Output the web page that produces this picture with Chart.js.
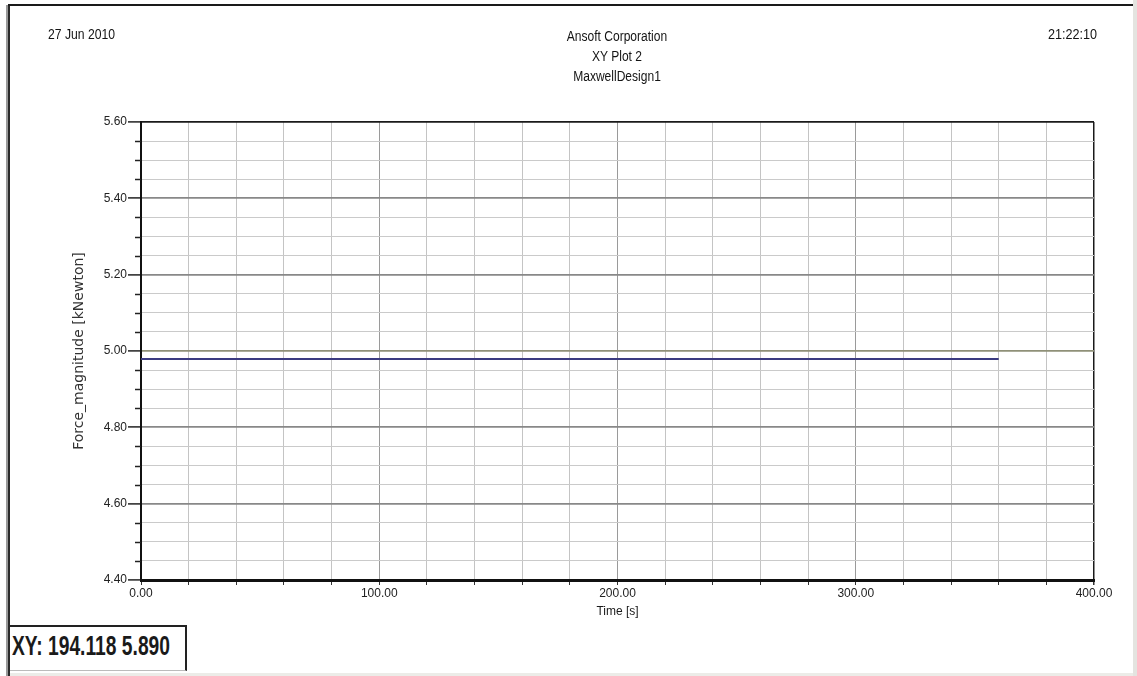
<!DOCTYPE html>
<html>
<head>
<meta charset="utf-8">
<script src="https://cdn.jsdelivr.net/npm/chart.js@4.4.1/dist/chart.umd.min.js"></script>
<style>
  html, body { margin: 0; padding: 0; background: #ffffff; }
  #wrap { position: relative; width: 1137px; height: 676px; overflow: hidden; background: #ffffff; }
  #plot { position: absolute; left: 0; top: 0; }
  .frame { position: absolute; }
  .hdr { position: absolute; font-family: "Liberation Sans", Arial, sans-serif;
         font-size: 14px; color: #141414; white-space: nowrap; line-height: 20px; }
  #hdrDate { transform: scaleX(0.87); transform-origin: 0 0; }
  #hdrTime { transform: scaleX(0.9); transform-origin: 100% 0; }
  #hdrTitle { transform: scaleX(0.86); transform-origin: 50% 0; }
  #xybox { position: absolute; left: 10px; top: 625px; width: 175px; height: 43px;
           border-top: 2px solid #222; border-right: 2px solid #222; border-bottom: 1px solid #bbb;
           background: #fff; }
  #xytext { position: absolute; left: 2px; top: 4px; font-family: "Liberation Sans", Arial, sans-serif;
            font-weight: bold; font-size: 27px; color: #1a1a1a; white-space: nowrap; transform-origin: 0 0; }
</style>
</head>
<body>
<div id="wrap">
  <canvas id="plot" width="1137" height="676"></canvas>
  <!-- window frame -->
  <div class="frame" style="left:6px;top:5px;width:2px;height:671px;background:#9a9a9a;"></div>
  <div class="frame" style="left:8px;top:5px;width:2px;height:671px;background:#2a2a2a;"></div>
  <div class="frame" style="left:8px;top:4px;width:1125px;height:2px;background:#1a1a1a;"></div>
  <div class="frame" style="left:1133px;top:0;width:4px;height:676px;background:#e4e4e0;"></div>
  <div class="frame" style="left:10px;top:673px;width:1123px;height:3px;background:#ecece8;"></div>
  <!-- header texts -->
  <div class="hdr" id="hdrDate" style="left:48px;top:24px;"></div>
  <div class="hdr" id="hdrTitle" style="left:472px;top:26px;width:290px;text-align:center;"></div>
  <div class="hdr" id="hdrTime" style="left:1020px;top:24px;width:77px;text-align:right;"></div>
  <div id="xybox"><div id="xytext"></div></div>
</div>
<script>
// Header and readout texts
const dateText = "27 Jun 2010";
const timeText = "21:22:10";
const titleLines = ["Ansoft Corporation", "XY Plot 2", "MaxwellDesign1"];
const readoutText = "XY: 194.118 5.890";

// Axis ranges and tick spacing
const xMin = 0, xMax = 400, xStep = 20, xLabelEvery = 100;
const yMin = 4.40, yMax = 5.60, yStep = 0.05, yLabelEvery = 0.20;
const xTitle = "Time [s]";
const yTitle = "Force_magnitude [kNewton]";

// Force trace (flat) over the simulated time span
const timeSec = [0, 360];
const forceKN = [4.979, 4.979];

document.getElementById('hdrDate').textContent = dateText;
document.getElementById('hdrTime').textContent = timeText;
document.getElementById('hdrTitle').innerHTML = titleLines.map(s => '<div>' + s + '</div>').join('');
const xy = document.getElementById('xytext');
xy.textContent = readoutText;
requestAnimationFrame(() => {
  const w = xy.getBoundingClientRect().width;
  xy.style.transform = 'scaleX(' + (158 / w) + ')';
});

const sans = '"Liberation Sans", Arial, sans-serif';
const isMultiple = (v, m) => Math.abs(Math.round(v / m) * m - v) < 1e-6;
const near = (a, b) => Math.abs(a - b) < 1e-6;

// short minor tick marks on the left axis
const minorTicks = {
  id: 'minorTicks',
  afterDraw(chart) {
    const y = chart.scales.y, ctx = chart.ctx;
    ctx.save();
    ctx.strokeStyle = '#222';
    ctx.lineWidth = 1.5;
    y.ticks.forEach(t => {
      if (isMultiple(t.value - yMin, yLabelEvery)) return;
      const py = Math.round(y.getPixelForValue(t.value)) + 0.5;
      ctx.beginPath();
      ctx.moveTo(y.right - 6, py);
      ctx.lineTo(y.right, py);
      ctx.stroke();
    });
    ctx.restore();
  }
};

new Chart(document.getElementById('plot'), {
  type: 'line',
  data: {
    datasets: [{
      data: timeSec.map((t, i) => ({ x: t, y: forceKN[i] })),
      borderColor: '#3b3b80',
      borderWidth: 2,
      pointRadius: 0,
      tension: 0
    }]
  },
  options: {
    responsive: false,
    animation: false,
    events: [],
    layout: { padding: { top: 122, right: 43, left: 0, bottom: 0 } },
    plugins: { legend: { display: false }, tooltip: { enabled: false } },
    scales: {
      x: {
        type: 'linear',
        min: xMin, max: xMax,
        afterFit(scale) { scale.height = 96; },
        ticks: {
          stepSize: xStep,
          autoSkip: false,
          maxRotation: 0,
          padding: 1,
          color: '#222',
          font: { family: sans, size: 12 },
          callback: v => isMultiple(v, xLabelEvery) ? v.toFixed(2) : ''
        },
        grid: {
          tickLength: 5,
          tickColor: '#333',
          color: ctx => {
            const v = ctx.tick ? ctx.tick.value : 0;
            if (near(v, xMax)) return '#1a1a1a';
            return isMultiple(v, xLabelEvery) ? '#9a9a9a' : '#c4c4c4';
          },
          lineWidth: ctx => (ctx.tick && near(ctx.tick.value, xMax)) ? 1.5 : 1
        },
        border: { display: true, color: '#111', width: 3 },
        title: {
          display: true,
          text: xTitle,
          color: '#1a1a1a',
          font: { family: sans, size: 12 },
          padding: { top: 0, bottom: 57 }
        }
      },
      y: {
        type: 'linear',
        min: yMin, max: yMax,
        afterFit(scale) { scale.width = 141; },
        ticks: {
          stepSize: yStep,
          autoSkip: false,
          padding: 1,
          color: '#222',
          font: { family: sans, size: 12 },
          callback: v => isMultiple(v - yMin, yLabelEvery) ? v.toFixed(2) : ''
        },
        grid: {
          tickLength: 13,
          tickWidth: 1.5,
          tickColor: ctx => (ctx.tick && isMultiple(ctx.tick.value - yMin, yLabelEvery)) ? '#222' : 'rgba(0,0,0,0)',
          color: ctx => {
            const v = ctx.tick ? ctx.tick.value : 0;
            if (near(v, yMax)) return '#1a1a1a';
            if (near(v, 5.0)) return '#8f9078';
            return isMultiple(v - yMin, yLabelEvery) ? '#888888' : '#cacaca';
          },
          lineWidth: ctx => {
            const v = ctx.tick ? ctx.tick.value : 0;
            return isMultiple(v - yMin, yLabelEvery) ? 1.8 : 1;
          }
        },
        border: { display: true, color: '#111', width: 2 },
        title: {
          display: true,
          text: yTitle,
          color: '#333',
          font: { family: '"DejaVu Sans", Verdana, sans-serif', size: 14 },
          padding: { top: 71, bottom: 0 }
        }
      }
    }
  },
  plugins: [minorTicks]
});
</script>
</body>
</html>
